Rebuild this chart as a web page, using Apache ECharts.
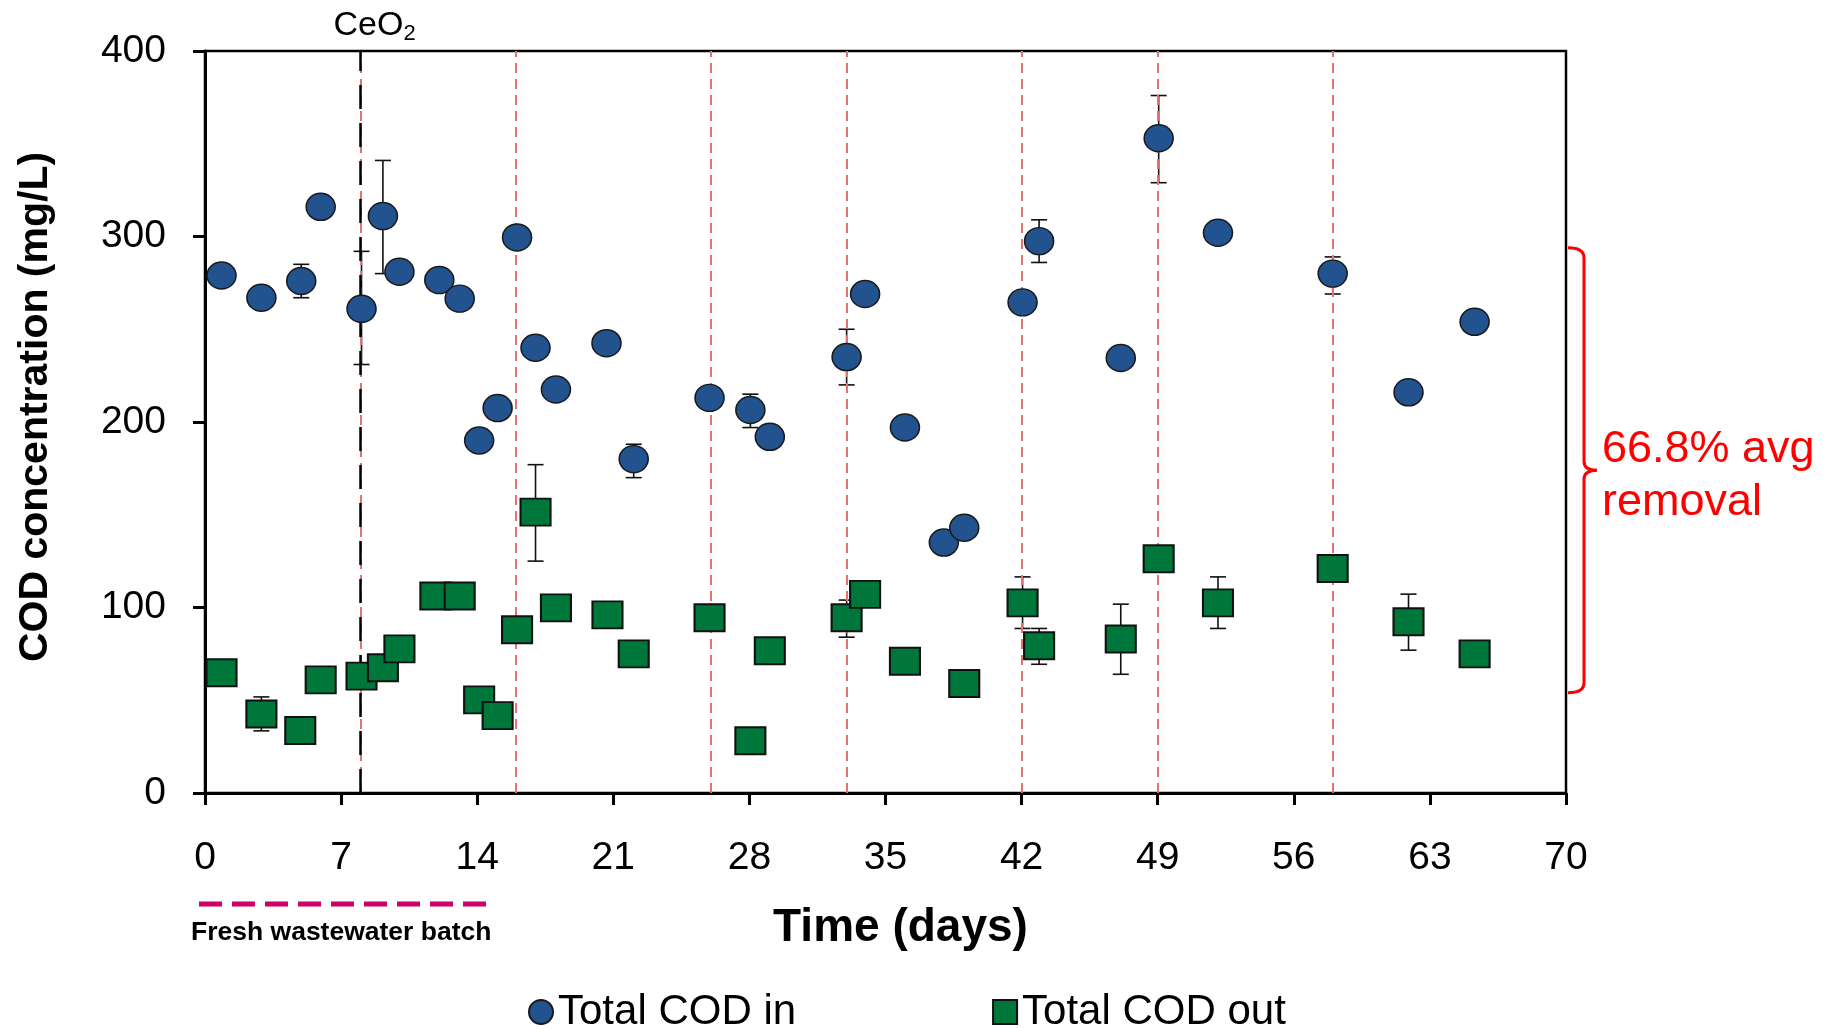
<!DOCTYPE html>
<html>
<head>
<meta charset="utf-8">
<title>COD concentration</title>
<script src="https://cdn.jsdelivr.net/npm/echarts@6/dist/echarts.min.js"></script>
<style>
    html, body { margin: 0; padding: 0; background: #fff; }
    #cod-chart { width: 1838px; height: 1029px; }
</style>
</head>
<body>
<div id="cod-chart"></div>
<script>
// values
var inDays = [0.85, 2.9, 4.95, 5.95, 8.05, 9.15, 10, 12.05, 13.1, 14.1, 15.05, 16.05, 17, 18.05, 20.65, 22.05,
    25.95, 28.05, 29.05, 33, 33.95, 36, 38, 39.05, 42.05, 42.9, 47.1, 49.05, 52.1, 58, 61.9, 65.3];
var inValues = [279, 267, 276, 316, 261, 311, 281, 276.5, 266.5, 190, 207.5, 299.5, 240, 217.5, 242.5, 180,
    213, 206.5, 192, 235, 269, 197, 135, 143, 264.5, 297.5, 234.5, 353, 302, 280, 216, 254];

var outDays = [0.85, 2.9, 4.9, 5.95, 8.05, 9.15, 10, 11.85, 13.1, 14.1, 15.05, 16.05, 17, 18.05, 20.7, 22.05,
    25.95, 28.05, 29.05, 33, 33.95, 36, 39.05, 42.05, 42.9, 47.1, 49.05, 52.1, 58, 61.9, 65.3];
var outValues = [64.8, 42.6, 33.7, 61, 63, 67.5, 77.7, 106.2, 106.2, 50.2, 41.7, 88, 151.4, 99.8, 96, 75,
    94.5, 28.2, 76.7, 94.5, 107.1, 71, 59, 102.5, 79.4, 83, 126.3, 102.5, 121, 92.3, 75];

var inErrDays = [4.95, 8.05, 9.15, 22.05, 28.05, 33, 42.9, 49.05, 58];
var inErrLow = [267, 231, 280, 170, 197, 220, 286, 329, 269];
var inErrHigh = [285, 292, 341, 188, 215, 250, 309, 376, 289];

var outErrDays = [2.9, 17, 33, 42.05, 42.9, 47.1, 52.1, 61.9];
var outErrLow = [33.5, 125, 84, 88.7, 69.4, 64, 88.7, 77];
var outErrHigh = [51.8, 177, 104, 116.5, 88.7, 101.8, 116.5, 107.2];

var ceo2Day = 8;
var batchDays = [16, 26, 33, 42, 49, 58];
var removalRange = [54, 294];   // span of the red bracket (mg/L)
var removalText = '66.8% avg\nremoval';

var xTicks = [0, 70, 7];    // min, max, interval
var yTicks = [0, 400, 100];

var FONT = '"Liberation Sans", Arial, sans-serif';

function pairs(xs, ys) {
    var out = [];
    for (var i = 0; i < xs.length; i++) {
        out.push([xs[i], ys[i]]);
    }
    return out;
}

function triples(xs, lo, hi) {
    var out = [];
    for (var i = 0; i < xs.length; i++) {
        out.push([xs[i], lo[i], hi[i]]);
    }
    return out;
}

function renderErrorBar(params, api) {
    var top = api.coord([api.value(0), api.value(2)]);
    var bottom = api.coord([api.value(0), api.value(1)]);
    var half = 8;
    var style = { stroke: '#111', lineWidth: 1.6 };
    return {
        type: 'group',
        children: [
            { type: 'line', shape: { x1: top[0], y1: top[1], x2: bottom[0], y2: bottom[1] }, style: style },
            { type: 'line', shape: { x1: top[0] - half, y1: top[1], x2: top[0] + half, y2: top[1] }, style: style },
            { type: 'line', shape: { x1: bottom[0] - half, y1: bottom[1], x2: bottom[0] + half, y2: bottom[1] }, style: style }
        ]
    };
}

function renderBracket(params, api) {
    var top = api.coord([api.value(0), api.value(2)]);
    var bottom = api.coord([api.value(0), api.value(1)]);
    var x0 = top[0] + 2;
    var x1 = x0 + 16;
    var yT = top[1], yB = bottom[1];
    var yM = (yT + yB) / 2;
    var d = 'M' + x0 + ' ' + yT +
        ' Q' + x1 + ' ' + yT + ' ' + x1 + ' ' + (yT + 10) +
        ' L' + x1 + ' ' + (yM - 9) +
        ' Q' + x1 + ' ' + yM + ' ' + (x1 + 13) + ' ' + yM +
        ' Q' + x1 + ' ' + yM + ' ' + x1 + ' ' + (yM + 9) +
        ' L' + x1 + ' ' + (yB - 10) +
        ' Q' + x1 + ' ' + yB + ' ' + x0 + ' ' + yB;
    return {
        type: 'group',
        children: [
            {
                type: 'path',
                shape: { pathData: d },
                style: { fill: null, stroke: '#ff0000', lineWidth: 3 }
            },
            {
                type: 'text',
                style: {
                    text: removalText,
                    x: x1 + 18,
                    y: yM + 6,
                    fill: '#ff0000',
                    fontSize: 45,
                    fontFamily: FONT,
                    lineHeight: 53,
                    align: 'left',
                    verticalAlign: 'middle'
                }
            }
        ]
    };
}

var chart = echarts.init(document.getElementById('cod-chart'));

var batchLines = [];
for (var i = 0; i < batchDays.length; i++) {
    batchLines.push({ xAxis: batchDays[i] });
}

var option = {
    animation: false,
    backgroundColor: '#fff',
    textStyle: { fontFamily: FONT },
    grid: {
        left: 205,
        right: 272,
        top: 51,
        bottom: 236,
        show: true,
        borderColor: '#000',
        borderWidth: 2.5
    },
    legend: {
        data: ['Total COD in', 'Total COD out'],
        left: 523,
        top: 986,
        itemWidth: 24,
        itemHeight: 24,
        itemGap: 196,
        textStyle: { fontSize: 42, color: '#000', fontFamily: FONT }
    },
    xAxis: {
        type: 'value',
        min: xTicks[0],
        max: xTicks[1],
        interval: xTicks[2],
        name: 'Time (days)',
        nameLocation: 'middle',
        nameGap: 112,
        nameTextStyle: { fontSize: 46, fontWeight: 'bold', color: '#000', padding: [0, 0, 0, 30] },
        axisLine: { lineStyle: { color: '#000', width: 3 } },
        axisTick: { show: true, length: 12, lineStyle: { color: '#000', width: 3 } },
        axisLabel: { fontSize: 39, color: '#000', margin: 46 },
        splitLine: { show: false }
    },
    yAxis: {
        type: 'value',
        min: yTicks[0],
        max: yTicks[1],
        interval: yTicks[2],
        name: 'COD concentration (mg/L)',
        nameLocation: 'middle',
        nameRotate: 90,
        nameGap: 149,
        nameTextStyle: { fontSize: 41, fontWeight: 'bold', color: '#000', padding: [0, 0, 0, 30] },
        axisLine: { show: true, lineStyle: { color: '#000', width: 3 } },
        axisTick: { show: true, length: 12, lineStyle: { color: '#000', width: 3 } },
        axisLabel: { fontSize: 39, color: '#000', margin: 39 },
        splitLine: { show: false }
    },
    graphic: [
        {
            type: 'line',
            shape: { x1: 199, y1: 904, x2: 494, y2: 904 },
            style: { stroke: '#cc0066', lineWidth: 5, lineDash: [23, 10] },
            silent: true
        },
        {
            type: 'text',
            left: 191,
            top: 919,
            style: { text: 'Fresh wastewater batch', fontSize: 26.5, fontWeight: 'bold', fill: '#000', fontFamily: FONT }
        }
    ],
    series: [
        {
            // reference lines: batch changes and CeO2 addition
            type: 'line',
            data: [],
            z: 1,
            markLine: {
                silent: true,
                symbol: 'none',
                animation: false,
                label: { show: false },
                lineStyle: { color: '#e37373', width: 2, type: [10, 6] },
                data: batchLines.concat([{ xAxis: ceo2Day }])
            }
        },
        {
            type: 'line',
            data: [],
            z: 2,
            markLine: {
                silent: true,
                symbol: 'none',
                animation: false,
                lineStyle: { color: '#000', width: 2.5, type: [24, 14] },
                label: {
                    show: true,
                    position: 'end',
                    distance: 6,
                    offset: [14, 0],
                    formatter: '{a|CeO}{b|2}',
                    rich: {
                        a: { fontSize: 34, color: '#000', fontFamily: FONT },
                        b: { fontSize: 22, color: '#000', fontFamily: FONT, verticalAlign: 'bottom', padding: [17, 0, 0, 0] }
                    }
                },
                data: [{ xAxis: ceo2Day }]
            }
        },
        {
            type: 'custom',
            name: 'in error',
            renderItem: renderErrorBar,
            encode: { x: 0, y: [1, 2] },
            data: triples(inErrDays, inErrLow, inErrHigh),
            z: 3,
            silent: true
        },
        {
            type: 'custom',
            name: 'out error',
            renderItem: renderErrorBar,
            encode: { x: 0, y: [1, 2] },
            data: triples(outErrDays, outErrLow, outErrHigh),
            z: 3,
            silent: true
        },
        {
            name: 'Total COD in',
            type: 'scatter',
            symbol: 'circle',
            symbolSize: [29, 27],
            itemStyle: { color: '#22538f', borderColor: '#1a1a1a', borderWidth: 1.5, opacity: 1 },
            data: pairs(inDays, inValues),
            z: 5
        },
        {
            name: 'Total COD out',
            type: 'scatter',
            symbol: 'rect',
            symbolSize: [30, 27],
            itemStyle: { color: '#00773a', borderColor: '#111', borderWidth: 2, opacity: 1 },
            data: pairs(outDays, outValues),
            z: 5
        },
        {
            type: 'custom',
            name: 'removal',
            renderItem: renderBracket,
            encode: { x: 0, y: [1, 2] },
            data: [[xTicks[1], removalRange[0], removalRange[1]]],
            clip: false,
            silent: true,
            z: 6
        }
    ]
};

chart.setOption(option);
</script>
</body>
</html>
